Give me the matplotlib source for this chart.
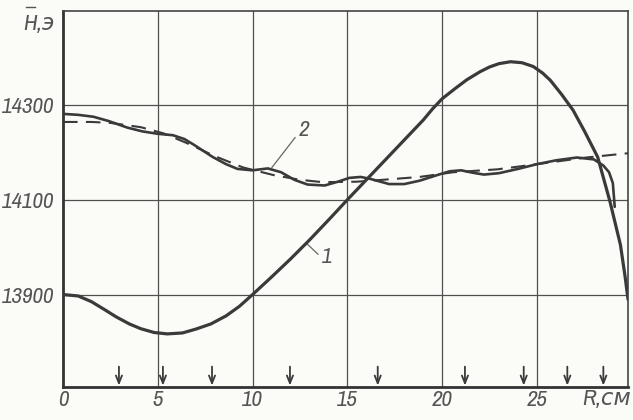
import matplotlib.pyplot as plt
from matplotlib import font_manager

# Data (R in cm, H in oersted)
r1 = [0, 0.8, 1.5, 2.2, 2.8, 3.5, 4.1, 4.8, 5.5, 6.3, 7.0, 7.8, 8.6, 9.3, 10.0,
      11.0, 12.0, 13.0, 14.0, 15.0, 16.0, 17.0, 18.0, 19.0, 19.5, 20.0, 20.7,
      21.3, 22.0, 22.5, 23.0, 23.6, 24.2, 24.8, 25.3, 25.7, 26.3, 26.9, 27.5,
      28.2, 28.85, 29.4, 29.65, 29.8]
h1 = [13900, 13897, 13885, 13868, 13853, 13838, 13828, 13820, 13817, 13819,
      13827, 13838, 13855, 13875, 13900, 13937, 13975, 14015, 14057, 14100,
      14142, 14184, 14226, 14268, 14292, 14313, 14335, 14353, 14370, 14380,
      14387, 14391, 14389, 14381, 14367, 14352, 14322, 14289, 14245, 14190,
      14096, 14005, 13937, 13890]

r2 = [0, 0.8, 1.6, 2.4, 3.4, 4.2, 5.0, 5.8, 6.4, 6.9, 7.9, 8.6, 9.2, 10.0,
      10.8, 11.5, 12.2, 12.9, 13.8, 14.5, 15.1, 15.7, 16.2, 17.2, 18.0, 18.8,
      19.9, 20.4, 21.0, 21.6, 22.2, 23.0, 24.0, 25.0, 26.0, 27.1, 28.0, 28.5,
      28.8, 29.0, 29.1]
h2 = [14281, 14279, 14275, 14266, 14252, 14244, 14239, 14236, 14228, 14216,
      14190, 14175, 14165, 14162, 14166, 14158, 14142, 14132, 14130, 14138,
      14146, 14148, 14144, 14133, 14133, 14140, 14154, 14160, 14162, 14157,
      14153, 14156, 14165, 14175, 14183, 14189, 14185, 14172, 14158, 14135,
      14085]

r_calc = [0, 1.5, 2.5, 4.1, 5.3, 6.5, 8.0, 9.5, 11.1, 12.5, 13.7, 15.5, 17.2,
          18.8, 20.6, 22.9, 25.0, 27.6, 29.8]
h_calc = [14264, 14264, 14262, 14253, 14240, 14220, 14192, 14168, 14152, 14142,
          14137, 14138, 14143, 14148, 14158, 14164, 14175, 14189, 14198]

arrows_r = [2.95, 5.27, 7.86, 11.97, 16.6, 21.2, 24.3, 26.6, 28.5]

xticks = [0, 5, 10, 15, 20, 25]
yticks = [13900, 14100, 14300]

# narrow italic font, like the drafting lettering of the original
installed = {f.name for f in font_manager.fontManager.ttflist}
narrow = [n for n in ['Liberation Sans Narrow', 'Archivo Narrow', 'Barlow Condensed']
          if n in installed]
family = narrow[:1] + ['DejaVu Sans']
fsize = 16.5 if narrow else 12

ink = '#3a3a3a'
paper = '#fbfbf8'
font = dict(family=family, style='italic', size=fsize, color='#555555')

fig = plt.figure(figsize=(6.33, 4.2), dpi=100, facecolor=paper)
ax = fig.add_axes([63 / 633, 1 - 387 / 420, (628 - 63) / 633, (387 - 11) / 420])
ax.set_facecolor(paper)

ax.set_xlim(0, 29.8)
ax.set_ylim(13705, 14498)

for x in xticks[1:]:
    ax.axvline(x, color='#505050', lw=0.9, zorder=1)
for y in yticks:
    ax.axhline(y, color='#505050', lw=0.9, zorder=1)

ax.plot(r1, h1, color=ink, lw=2.3, solid_capstyle='round', zorder=3)
ax.plot(r2, h2, color=ink, lw=1.9, solid_capstyle='round', zorder=3)
ax.plot(r_calc, h_calc, color=ink, lw=1.5, dashes=(7, 4), zorder=3)

for x in arrows_r:
    ax.annotate('', xy=(x, 13708), xytext=(x, 13748),
                arrowprops=dict(arrowstyle='->,head_length=0.55,head_width=0.22',
                                color=ink, lw=1.3, shrinkA=0, shrinkB=0))

# curve labels with leader lines
ax.plot([11.02, 12.24], [14168, 14231], color='#666666', lw=0.9)
ax.text(12.45, 14247, '2', ha='left', va='center', **font)
ax.plot([12.87, 13.45], [14007, 13985], color='#666666', lw=0.9)
ax.text(13.65, 13979, '1', ha='left', va='center', **font)

ax.set_xticks(xticks)
ax.set_yticks(yticks)
ax.set_xticklabels([str(v) for v in xticks], **font)
ax.set_yticklabels([str(v) for v in yticks], **font)
ax.tick_params(axis='x', length=0, pad=2)
ax.tick_params(axis='y', length=0, pad=6)

for side in ['left', 'bottom']:
    ax.spines[side].set_linewidth(2.0)
    ax.spines[side].set_color('#333333')
for side in ['top', 'right']:
    ax.spines[side].set_linewidth(1.2)
    ax.spines[side].set_color('#444444')

fig.text(631 / 633, 1 - 389 / 420, 'R,см', ha='right', va='top', **font)
hlab = fig.text(55 / 633, 1 - 30 / 420, 'H,э', ha='right', va='baseline', **font)

# bar over the H, placed from the drawn label
fig.canvas.draw()
bb = hlab.get_window_extent()
x0 = bb.x0 / fig.bbox.width + 2 / 633
fig.add_artist(plt.Line2D([x0, x0 + 9 / 633], [1 - 7 / 420, 1 - 7 / 420],
                          color='#555555', lw=1.0))

fig.savefig('out.png', dpi=100, facecolor=paper)
